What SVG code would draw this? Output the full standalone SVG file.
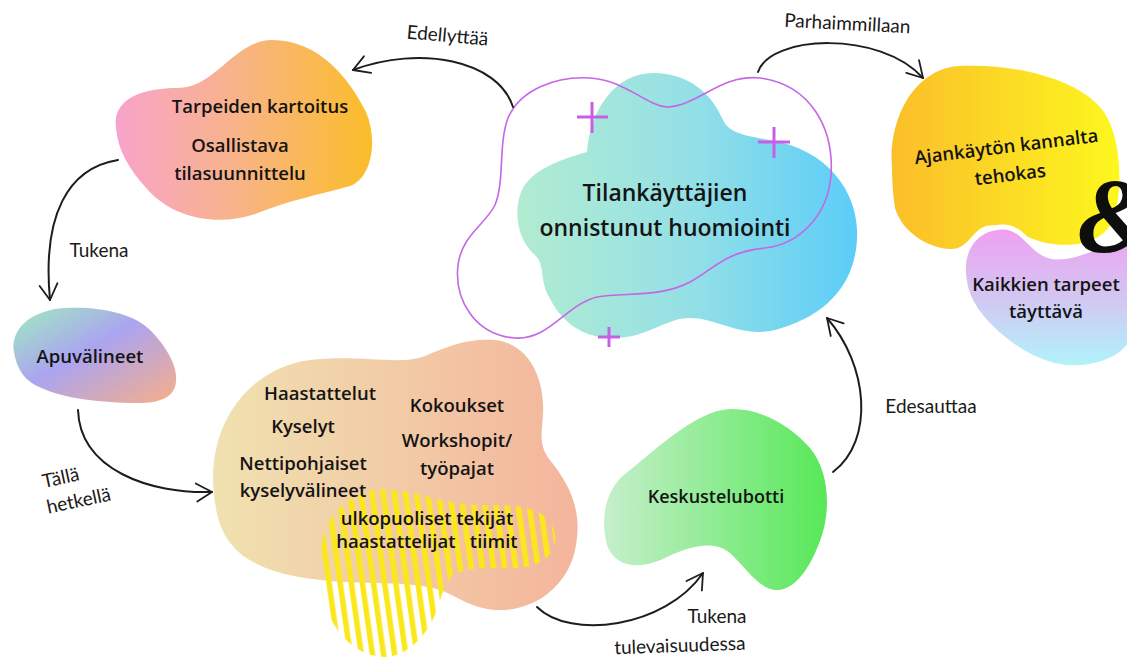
<svg xmlns="http://www.w3.org/2000/svg" width="1127" height="657" viewBox="0 0 1127 657">
  <defs>
    <linearGradient id="gTarve" x1="0" y1="0" x2="1" y2="0">
      <stop offset="0" stop-color="#f8a3cb"/>
      <stop offset="0.45" stop-color="#f8b38c"/>
      <stop offset="1" stop-color="#fbbd28"/>
    </linearGradient>
    <linearGradient id="gKeski" x1="0" y1="0" x2="1" y2="0">
      <stop offset="0" stop-color="#b2ecd0"/>
      <stop offset="0.5" stop-color="#95e0e6"/>
      <stop offset="1" stop-color="#5ccdf8"/>
    </linearGradient>
    <linearGradient id="gAika" x1="0" y1="0" x2="1" y2="0">
      <stop offset="0" stop-color="#fbbe2a"/>
      <stop offset="1" stop-color="#fdf71e"/>
    </linearGradient>
    <linearGradient id="gKaikki" x1="0" y1="0" x2="0" y2="1">
      <stop offset="0" stop-color="#ef9ff0"/>
      <stop offset="0.5" stop-color="#d3c6f2"/>
      <stop offset="1" stop-color="#b0f4fa"/>
    </linearGradient>
    <linearGradient id="gApu" x1="0" y1="0" x2="1" y2="1">
      <stop offset="0" stop-color="#9fecc0"/>
      <stop offset="0.45" stop-color="#aba4f0"/>
      <stop offset="1" stop-color="#f8ae88"/>
    </linearGradient>
    <linearGradient id="gMenetelmat" x1="0" y1="0" x2="1" y2="0">
      <stop offset="0" stop-color="#f0e1b0"/>
      <stop offset="1" stop-color="#f4b59c"/>
    </linearGradient>
    <linearGradient id="gBotti" x1="0" y1="0" x2="1" y2="0">
      <stop offset="0" stop-color="#c6efcc"/>
      <stop offset="1" stop-color="#58e858"/>
    </linearGradient>
    <pattern id="raidat" width="11" height="20" patternUnits="userSpaceOnUse" patternTransform="rotate(-8)">
      <rect x="0" y="0" width="5.5" height="20" fill="#fbe81c"/>
    </pattern>
    <marker id="nuoli" markerWidth="24" markerHeight="24" refX="20" refY="12" orient="auto" markerUnits="userSpaceOnUse">
      <path d="M4,3 L20,12 L5,21" fill="none" stroke="#1d1d1d" stroke-width="1.8" stroke-linecap="round" stroke-linejoin="round"/>
    </marker>
    <style>
      .nimi { font-family: "Open Sans", "Noto Sans", "Liberation Sans", sans-serif; font-size: 18.5px; font-weight: 600; fill: #141414; text-anchor: middle; }
      .kasi { font-family: "Lato", "Liberation Sans", sans-serif; font-size: 19px; font-weight: 400; fill: #1a1a1a; text-anchor: middle; }
      .yhteys { fill: none; stroke: #1d1d1d; stroke-width: 2; stroke-linecap: round; marker-end: url(#nuoli); }
      .risti { stroke: #c85ee6; stroke-width: 3; stroke-linecap: butt; }
    </style>
  </defs>

  <rect width="1127" height="657" fill="#ffffff"/>

  <!-- Tarpeiden kartoitus -->
  <g id="tarpeiden-kartoitus">
    <path d="M116,128 C112,100 140,88 178,88 C215,88 235,40 272,40 C320,40 350,80 366,112 C378,140 372,178 350,186 C318,195 290,200 255,214 C220,226 175,220 148,190 C128,168 118,150 116,128 Z" fill="url(#gTarve)"/>
    <text class="nimi" x="260" y="113">Tarpeiden kartoitus</text>
    <text class="nimi" x="240" y="152">Osallistava</text>
    <text class="nimi" x="240" y="180">tilasuunnittelu</text>
  </g>

  <!-- Tilankäyttäjien onnistunut huomiointi -->
  <g id="huomiointi">
    <path d="M653,73 C690,73 712,95 722,118 C728,132 740,135 770,140 C830,150 860,195 857,240 C854,290 820,318 775,330 C740,338 718,318 690,318 C665,318 648,338 613,338 C580,338 560,320 548,295 C540,280 545,265 535,255 C518,240 514,215 520,195 C528,170 560,160 587,152 C590,110 615,73 653,73 Z" fill="url(#gKeski)"/>
    <path d="M667,107 C645,105 625,80 590,78 C555,76 520,90 508,118 C498,145 505,180 495,205 C485,225 462,235 458,265 C454,300 475,335 515,338 C550,340 565,305 597,297 C625,292 660,298 690,282 C715,268 725,252 765,248 C800,244 828,215 831,175 C834,130 812,85 760,78 C720,74 700,105 667,107 Z" fill="none" stroke="#c466e6" stroke-width="1.6"/>
    <line class="risti" x1="577" y1="117" x2="608" y2="117"/>
    <line class="risti" x1="592" y1="102" x2="592" y2="133"/>
    <line class="risti" x1="758" y1="142" x2="790" y2="142"/>
    <line class="risti" x1="774" y1="127" x2="774" y2="158"/>
    <line class="risti" x1="598" y1="337" x2="620" y2="337" stroke-width="2.4"/>
    <line class="risti" x1="609" y1="327" x2="609" y2="347" stroke-width="2.4"/>
    <text class="nimi" x="665" y="201" style="font-size:23px">Tilankäyttäjien</text>
    <text class="nimi" x="665" y="236" style="font-size:23px">onnistunut huomiointi</text>
  </g>

  <!-- Ajankäytön kannalta tehokas -->
  <g id="ajankaytto">
    <path d="M892,168 C888,118 915,68 960,66 C1010,63 1080,78 1104,112 C1124,142 1122,200 1112,222 C1100,246 1066,248 1042,242 C1020,236 1002,222 986,226 C972,230 968,250 950,249 C928,248 902,232 895,208 C893,195 892,180 892,168 Z" fill="url(#gAika)"/>
    <text class="nimi" x="1007" y="153" transform="rotate(-7 1007 153)">Ajankäytön kannalta</text>
    <text class="nimi" x="1011" y="181" transform="rotate(-7 1011 181)">tehokas</text>
  </g>

  <!-- Kaikkien tarpeet täyttävä -->
  <g id="kaikkien-tarpeet">
    <path d="M964,278 C960,250 975,228 1002,227 C1025,226 1032,256 1056,257 C1080,258 1098,242 1130,240 L1130,345 C1115,365 1080,372 1052,365 C1018,355 990,330 976,310 C968,298 965,288 964,278 Z" fill="url(#gKaikki)" stroke="#ffffff" stroke-width="5"/>
    <text class="nimi" x="1046" y="291">Kaikkien tarpeet</text>
    <text class="nimi" x="1046" y="318">täyttävä</text>
  </g>

  <!-- ampersand between the two goals -->
  <text x="1077" y="252" style="font-family:'Liberation Serif','DejaVu Serif',serif;font-size:106px;font-weight:bold;font-style:italic;fill:#0e0e0e">&amp;</text>

  <!-- Apuvälineet -->
  <g id="apuvalineet">
    <path d="M14,352 C10,330 30,310 65,308 C100,306 135,314 150,330 C165,345 178,365 176,382 C174,398 160,404 130,403 C95,402 60,398 35,385 C22,378 16,365 14,352 Z" fill="url(#gApu)"/>
    <text class="nimi" x="90" y="363">Apuvälineet</text>
  </g>

  <!-- menetelmät -->
  <g id="menetelmat">
    <path d="M213,480 C212,420 250,368 310,360 C360,354 400,366 425,356 C450,345 470,338 495,340 C530,344 545,380 543,415 C542,432 538,445 550,460 C570,485 582,510 576,545 C570,585 535,612 495,610 C470,608 455,595 440,590 C410,580 360,585 320,580 C280,576 245,565 228,540 C216,522 214,500 213,480 Z" fill="url(#gMenetelmat)"/>
    <path d="M322,560 C318,530 335,500 372,490 C400,484 440,505 480,505 C515,505 545,505 554,530 C560,550 545,566 520,568 C495,570 470,564 452,576 C440,588 442,605 430,625 C418,645 400,657 385,657 C350,657 325,620 322,590 C321,580 322,570 322,560 Z" fill="url(#raidat)"/>
    <text class="nimi" x="320" y="400">Haastattelut</text>
    <text class="nimi" x="303" y="433">Kyselyt</text>
    <text class="nimi" x="303" y="470">Nettipohjaiset</text>
    <text class="nimi" x="303" y="497">kyselyvälineet</text>
    <text class="nimi" x="457" y="412">Kokoukset</text>
    <text class="nimi" x="457" y="447">Workshopit/</text>
    <text class="nimi" x="457" y="475">työpajat</text>
    <text class="nimi" x="427" y="525">ulkopuoliset tekijät</text>
    <text class="nimi" x="427" y="548" xml:space="preserve">haastattelijat   tiimit</text>
  </g>

  <!-- Keskustelubotti -->
  <g id="keskustelubotti">
    <path d="M730,409 C760,408 790,425 810,448 C830,472 830,510 822,535 C814,560 798,590 777,590 C760,590 748,570 730,553 C715,540 690,545 665,558 C640,570 615,568 607,545 C600,520 605,490 625,474 C650,455 695,410 730,409 Z" fill="url(#gBotti)"/>
    <text class="nimi" x="716" y="503" style="font-size:18px">Keskustelubotti</text>
  </g>

  <!-- connectors -->
  <g id="yhteydet">
    <path class="yhteys" d="M513,107 C498,60 420,45 353,70"/>
    <path class="yhteys" d="M758,72 C770,35 880,30 923,78"/>
    <path class="yhteys" d="M118,160 C68,168 42,215 50,300"/>
    <path class="yhteys" d="M78,410 C80,470 150,494 212,492"/>
    <path class="yhteys" d="M537,607 C570,640 665,628 703,573"/>
    <path class="yhteys" d="M833,472 C875,440 868,365 827,318"/>
  </g>

  <!-- connector labels -->
  <g id="tunnisteet">
    <text class="kasi" x="447" y="42" transform="rotate(5 447 42)">Edellyttää</text>
    <text class="kasi" x="847" y="30" transform="rotate(3 847 30)">Parhaimmillaan</text>
    <text class="kasi" x="99" y="257">Tukena</text>
    <text class="kasi" x="62" y="484" transform="rotate(-12 62 484)">Tällä</text>
    <text class="kasi" x="80" y="507" transform="rotate(-12 80 507)">hetkellä</text>
    <text class="kasi" x="931" y="413">Edesauttaa</text>
    <text class="kasi" x="717" y="623">Tukena</text>
    <text class="kasi" x="680" y="652" transform="rotate(-2 680 652)">tulevaisuudessa</text>
  </g>
</svg>
